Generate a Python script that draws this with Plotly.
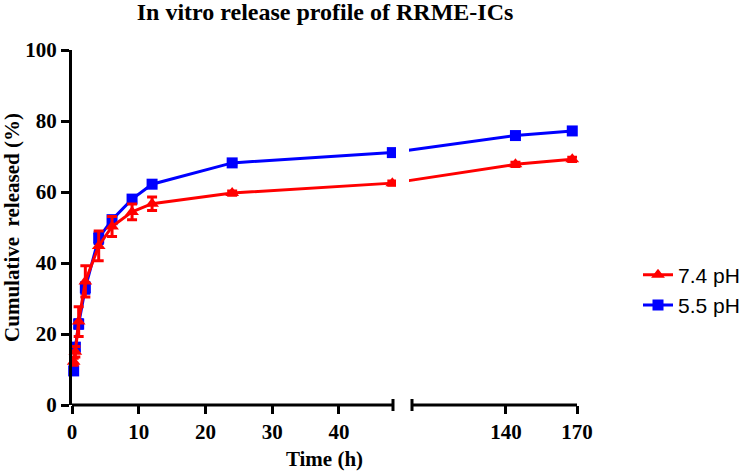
import plotly.graph_objects as go

# ---- data ----
time_h = [0.25, 0.5, 1, 2, 4, 6, 9, 12, 24, 48, 144, 168]
ph74 = [12.2, 15.0, 23.5, 34.8, 44.8, 50.3, 54.4, 56.7, 59.7, 62.5, 67.8, 69.2]
ph74_err = [1.0, 1.5, 4.2, 4.4, 4.2, 2.8, 2.2, 1.9, 0.6, 0.6, 0.6, 0.6]
ph55 = [9.6, 16.3, 22.8, 33.0, 47.0, 52.2, 58.0, 62.2, 68.2, 71.1, 75.9, 77.2]
ph55_err = [1.0, 1.0, 1.2, 1.5, 1.5, 1.0, 0.8, 0.6, 0.5, 0.5, 0.5, 0.5]
x_tick_vals = [0, 10, 20, 30, 40, 140, 170]
y_tick_vals = [0, 20, 40, 60, 80, 100]

# ---- broken x-axis scale ----
LEFT_MAX = 48.1
RIGHT_MIN = 100.3
RIGHT_MAX = 170.0
D1 = 321 / 505   # end of left segment (paper fraction)
D2 = 340 / 505   # start of right segment (paper fraction)


def brk(t):
    if t <= LEFT_MAX:
        return t / LEFT_MAX * D1
    return D2 + (t - RIGHT_MIN) / (RIGHT_MAX - RIGHT_MIN) * (1 - D2)


xs = [brk(t) for t in time_h]

SERIF = "Liberation Serif, Times New Roman, serif"
SANS = "Liberation Sans, Arial, sans-serif"

fig = go.Figure()
fig.add_trace(go.Scatter(
    x=xs, y=ph55, name="5.5 pH", mode="lines+markers",
    line=dict(color="#0000FF", width=3),
    marker=dict(symbol="square", size=11, color="#0000FF"),
    error_y=dict(type="data", array=ph55_err, color="#0000FF", thickness=3, width=5),
    cliponaxis=False, legendrank=2,
))
fig.add_trace(go.Scatter(
    x=xs, y=ph74, name="7.4 pH", mode="lines+markers",
    line=dict(color="#FF0000", width=3),
    marker=dict(symbol="triangle-up", size=12, color="#FF0000"),
    error_y=dict(type="data", array=ph74_err, color="#FF0000", thickness=3, width=5),
    cliponaxis=False, legendrank=1,
))

cap = 6 / 355
shapes = [
    # blank the gap of the broken axis
    dict(type="rect", xref="paper", yref="paper", x0=D1 + 3 / 505, x1=D2 - 3 / 505,
         y0=-0.01, y1=1.0, fillcolor="white", line=dict(width=0), layer="above"),
    # left axis segment
    dict(type="line", xref="paper", yref="paper", x0=0, x1=D1, y0=0, y1=0,
         line=dict(color="black", width=3), layer="above"),
    dict(type="line", xref="paper", yref="paper", x0=D1, x1=D1, y0=-cap, y1=cap,
         line=dict(color="black", width=3), layer="above"),
    # right axis segment
    dict(type="line", xref="paper", yref="paper", x0=D2, x1=1, y0=0, y1=0,
         line=dict(color="black", width=3), layer="above"),
    dict(type="line", xref="paper", yref="paper", x0=D2, x1=D2, y0=-cap, y1=cap,
         line=dict(color="black", width=3), layer="above"),
]

fig.update_layout(
    width=743, height=475,
    margin=dict(l=72, r=166, t=50, b=70, autoexpand=False),
    paper_bgcolor="white", plot_bgcolor="white",
    title=dict(text="<b>In vitro release profile of RRME-ICs</b>",
               x=325 / 743, xanchor="center", xref="container",
               y=1 - 12 / 475, yanchor="middle", yref="container",
               font=dict(family=SERIF, size=24, color="black")),
    xaxis=dict(range=[0, 1], tickmode="array",
               tickvals=[brk(v) for v in x_tick_vals],
               ticktext=[f"<b>{v}</b>" for v in x_tick_vals],
               showline=False, showgrid=False, zeroline=False,
               ticks="outside", ticklen=8, tickwidth=3, tickcolor="black",
               tickfont=dict(family=SERIF, size=21, color="black"),
               title=dict(text="<b>Time (h)</b>", standoff=8,
                          font=dict(family=SERIF, size=21, color="black")),
               automargin=False, fixedrange=True),
    yaxis=dict(range=[0, 100], tickvals=y_tick_vals,
               ticktext=[f"<b>{v}</b>" for v in y_tick_vals],
               showline=True, linecolor="black", linewidth=3,
               showgrid=False, zeroline=False,
               ticks="outside", ticklen=8, tickwidth=3, tickcolor="black",
               tickfont=dict(family=SERIF, size=21, color="black"),
               title=dict(text="<b>Cumulative\u00a0 released (%)</b>", standoff=4,
                          font=dict(family=SERIF, size=21, color="black")),
               automargin=False, fixedrange=True),
    legend=dict(x=638 / 743, xref="container", xanchor="left",
                y=(475 - 290) / 475, yref="container", yanchor="middle",
                traceorder="normal",
                font=dict(family=SANS, size=21, color="black"),
                bgcolor="rgba(0,0,0,0)"),
    showlegend=True,
    shapes=shapes,
)

fig.write_html("out.html")
